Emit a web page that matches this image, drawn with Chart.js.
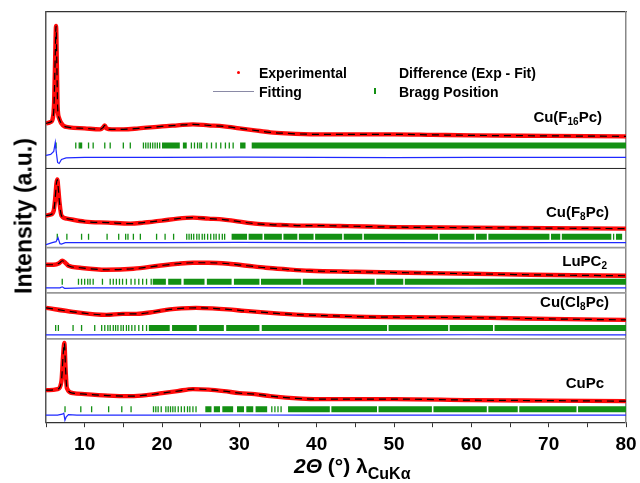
<!DOCTYPE html>
<html lang="en">
<head>
<meta charset="UTF-8" />
<title>XRD patterns - Le Bail fits</title>
<script src="https://cdn.jsdelivr.net/npm/chart.js"></script>
<style>
  * { margin: 0; padding: 0; box-sizing: border-box; }
  body { background: #fff; font-family: Arial, "Liberation Sans", sans-serif; }
  .wrap { position: relative; width: 640px; height: 483px; overflow: hidden; }
  canvas { position: absolute; left: 0; top: 0; }
  .txt { position: absolute; font-weight: bold; white-space: nowrap; color: #000; }
  .leg { font-size: 14px; line-height: 18px; }
  .name { font-size: 15px; line-height: 18px; text-align: right; }
  .name sub { font-size: 10px; vertical-align: -3px; line-height: 0; }
  .ytitle { font-size: 23px; left: 24px; top: 216px; transform: translate(-50%, -50%) rotate(-90deg); }
  .xtitle { font-size: 21px; line-height: 22px; left: 294px; top: 455px; }
  .xtitle sub { font-size: 16px; vertical-align: -6px; line-height: 0; }
  .sym { position: absolute; }
</style>
</head>
<body>
<div class="wrap">
  <canvas id="xrd" width="640" height="483"></canvas>

  <!-- legend -->
  <div class="sym" style="left:237px;top:71px;width:3px;height:3px;background:#f00;border-radius:50%;"></div>
  <div class="txt leg" style="left:259px;top:64px;">Experimental</div>
  <div class="txt leg" style="left:399px;top:64px;">Difference (Exp - Fit)</div>
  <div class="sym" style="left:213px;top:91px;width:41px;height:1px;background:#8a8aa6;"></div>
  <div class="txt leg" style="left:259px;top:83px;">Fitting</div>
  <div class="sym" style="left:374px;top:88px;width:2px;height:6px;background:#139013;"></div>
  <div class="txt leg" style="left:399px;top:83px;">Bragg Position</div>

  <!-- sample names -->
  <div class="txt name" style="right:38px;top:108px;">Cu(F<sub>16</sub>Pc)</div>
  <div class="txt name" style="right:31px;top:203px;">Cu(F<sub>8</sub>Pc)</div>
  <div class="txt name" style="right:33px;top:252px;">LuPC<sub>2</sub></div>
  <div class="txt name" style="right:31px;top:293px;">Cu(Cl<sub>8</sub>Pc)</div>
  <div class="txt name" style="right:36px;top:374px;">CuPc</div>

  <div class="txt ytitle">Intensity (a.u.)</div>
  <div class="txt xtitle"><i>2Θ</i> (°) λ<sub>CuKα</sub></div>
</div>

<script>
// x axis ticks
const xTicks = [10, 20, 30, 40, 50, 60, 70, 80];

// Cu(F16Pc)
const f16Angle = [5.0, 5.5, 5.85, 6.05, 6.2, 6.3, 6.4, 6.5, 6.7, 7.2, 8.0, 10.0, 12.0, 12.4, 12.6, 12.8, 13.5, 15.0, 17.0, 20.0, 22.0, 24.0, 26.0, 28.0, 30.0, 32.0, 34.0, 36.0, 40.0, 45.0, 50.0, 55.0, 60.0, 70.0, 80.0];
const f16Exp   = [45, 46, 49, 66, 115, 142, 105, 62, 50, 43, 41, 40, 39, 41, 43, 40, 39, 39, 40, 42, 43, 44, 43, 42, 40, 38, 36, 35, 34, 34, 34, 33.5, 33, 32.5, 32];
const f16DiffAngle = [5.0, 5.6, 6.0, 6.2, 6.35, 6.5, 6.7, 7.0, 7.6, 10, 20, 30, 40, 50, 60, 70, 80];
const f16Diff      = [13, 14, 17, 26, 15, 6, 5, 9, 10.5, 11, 11, 11.3, 11, 10.8, 11, 11, 11];
const f16Bragg = [6.3, 8.85, 9.3, 9.45, 9.6, 10.5, 11.1, 12.6, 13.3, 15.0, 15.9, 17.6, 17.9, 18.2, 18.5, 18.8, 19.1, 19.4, 19.7, 23.8, 24.2, 24.6, 24.9, 25.1, 25.8, 26.4, 27.0, 27.6, 28.2, 28.7, 29.2];
const f16Bands = [[20.0, 22.3], [22.7, 23.2], [30.1, 30.8], [31.6, 80]];

// Cu(F8Pc)
const f8Angle = [5.0, 5.6, 6.0, 6.2, 6.35, 6.46, 6.6, 6.75, 7.0, 7.7, 10, 13, 15.9, 17.6, 20, 22, 24, 26, 28, 30, 32, 34, 36, 38, 40, 44, 50, 60, 70, 80];
const f8Exp   = [32, 33, 37, 50, 64, 68, 58, 45, 32, 29, 26, 25, 24, 25, 27, 29, 30, 29, 28, 26, 24, 23, 22.5, 22, 22, 21.5, 20.5, 20, 19.5, 19];
const f8DiffAngle = [5.0, 5.8, 6.3, 6.55, 6.8, 7.0, 7.5, 10, 20, 30, 40, 50, 60, 70, 80];
const f8Diff      = [3, 5, 6, 10, 4, 3.5, 5, 5, 5, 5.3, 5, 5, 4.8, 5, 5];
const f8Bragg = [6.46, 7.7, 9.6, 10.5, 12.9, 14.4, 15.3, 15.6, 16.3, 17.2, 19.3, 20.4, 21.5, 23.2, 23.5, 23.8, 24.1, 24.5, 24.8, 25.2, 25.5, 25.9, 26.3, 26.7, 27.0, 27.4, 27.8, 28.1, 78.4];
const f8Bands = [[29.0, 31.0], [31.2, 33.0], [33.2, 35.5], [35.7, 37.5], [37.7, 39.6], [39.8, 43.3], [43.5, 45.9], [46.1, 55.7], [55.9, 60.4], [60.6, 62.0], [62.2, 70.1], [70.3, 71.5], [71.7, 78.1], [78.7, 79.5]];

// LuPc2
const luAngle = [5.0, 6.0, 6.7, 7.1, 7.5, 7.9, 9.4, 12.8, 16.3, 19.6, 22, 24, 26, 28.6, 31, 33.4, 36, 39.1, 45, 51.8, 60, 67.6, 80];
const luExp   = [28, 28, 29.5, 32, 30, 27, 25, 23, 24, 27, 29, 30, 30, 29, 27, 25, 23.5, 22, 21, 20, 19, 18, 17];
const luDiffAngle = [5, 6.8, 7.1, 7.4, 10, 20, 30, 40, 50, 60, 70, 80];
const luDiff      = [5, 5, 6, 4.5, 5, 5, 5.2, 5, 5, 4.8, 5, 5];
const luBragg = [7.1, 9.2, 9.6, 10.0, 10.4, 10.7, 11.1, 12.3, 13.3, 13.7, 14.1, 14.5, 14.9, 15.4, 16.0, 16.5, 17.0, 17.5, 18.0, 18.6];
const luBands = [[18.8, 20.5], [20.8, 22.5], [22.8, 25.5], [25.8, 29.0], [29.3, 32.6], [32.8, 38.0], [38.2, 47.5], [47.7, 51.2], [51.4, 80]];

// Cu(Cl8Pc)
const cl8Angle = [5.0, 8.5, 12.8, 14.9, 16.7, 19, 21, 22.5, 24.4, 26.5, 28.5, 30.7, 34, 38.1, 42, 46.5, 55, 62.4, 70, 80];
const cl8Exp   = [31, 27, 24, 25, 25, 27, 29.5, 30.5, 31, 30.5, 29.5, 28, 26, 24, 23, 22, 21.5, 21, 20, 19];
const cl8DiffAngle = [5, 10, 20, 30, 40, 50, 60, 70, 80];
const cl8Diff      = [4, 4, 4.3, 4, 4, 4, 4.2, 4, 4];
const cl8Bragg = [6.25, 6.6, 8.5, 9.6, 11.3, 12.2, 12.6, 13.0, 13.3, 13.7, 14.0, 14.3, 14.7, 15.0, 15.4, 15.7, 16.1, 16.5, 17.0, 17.5, 18.0];
const cl8Bands = [[18.3, 21.0], [21.3, 24.5], [24.8, 28.0], [28.3, 32.6], [32.9, 49.1], [49.3, 57.0], [57.2, 62.8], [63.0, 80]];

// CuPc
const cuAngle = [5.0, 5.4, 6.5, 7.0, 7.2, 7.37, 7.55, 7.7, 8.5, 10, 13, 16, 18, 20, 22, 24, 26, 28, 30, 32, 34, 36, 38, 40, 50, 60, 70, 80];
const cuExp   = [32, 32, 33, 41, 65, 79, 50, 34, 29, 28, 26.5, 26, 27, 29, 31, 33, 32.5, 31, 29, 28, 26, 24.5, 23.5, 23, 23, 22, 21.5, 21];
const cuDiffAngle = [5, 6.5, 7.1, 7.3, 7.45, 7.6, 7.9, 9, 20, 30, 40, 50, 60, 70, 80];
const cuDiff      = [7, 7, 8, 9, 2, 5, 7.5, 7, 7, 7.2, 7, 7, 7, 7, 7];
const cuBragg = [7.46, 9.5, 10.9, 13.1, 14.8, 16.0, 18.9, 19.2, 19.5, 19.9, 20.5, 20.8, 21.1, 21.4, 21.7, 22.1, 22.5, 22.9, 23.3, 23.6, 24.0, 24.4, 34.2, 34.6, 35.0, 35.4];
const cuBands = [[25.6, 26.4], [26.7, 27.5], [27.8, 29.2], [29.7, 30.6], [30.9, 31.8], [32.1, 33.6], [36.3, 41.7], [41.9, 47.8], [48.0, 54.9], [55.1, 62.0], [62.2, 66.0], [66.2, 73.6], [73.8, 80]];

// stacking of the panels (offset of each panel, level of the Bragg row)
const panels = [
  { angle: f16Angle, exp: f16Exp, dAngle: f16DiffAngle, diff: f16Diff, bragg: f16Bragg, bands: f16Bands, base: 253, braggAt: 23 },
  { angle: f8Angle,  exp: f8Exp,  dAngle: f8DiffAngle,  diff: f8Diff,  bragg: f8Bragg,  bands: f8Bands,  base: 174, braggAt: 11 },
  { angle: luAngle,  exp: luExp,  dAngle: luDiffAngle,  diff: luDiff,  bragg: luBragg,  bands: luBands,  base: 129, braggAt: 11 },
  { angle: cl8Angle, exp: cl8Exp, dAngle: cl8DiffAngle, diff: cl8Diff, bragg: cl8Bragg, bands: cl8Bands, base: 83,  braggAt: 11 },
  { angle: cuAngle,  exp: cuExp,  dAngle: cuDiffAngle,  diff: cuDiff,  bragg: cuBragg,  bands: cuBands,  base: 0,   braggAt: 13 }
];
const yTop = 409;

const RED = "#ff0a0a", GREEN = "#139013", BLUE = "#1e28ff";

function pts(xs, ys, off) {
  return xs.map((x, i) => ({ x: x, y: ys[i] + off }));
}
function bandPts(bands, y) {
  const out = [];
  bands.forEach(b => { out.push({ x: b[0], y: y }, { x: b[1], y: y }, { x: b[1], y: null }); });
  return out;
}

const datasets = [];
panels.forEach((p, i) => {
  datasets.push({ label: "Fitting", data: pts(p.angle, p.exp, p.base), showLine: true, borderColor: "#000",
    borderWidth: 1.2, borderDash: [7, 5], pointRadius: 0, cubicInterpolationMode: "monotone", order: 0 });
  datasets.push({ label: "Experimental", data: pts(p.angle, p.exp, p.base), showLine: true, borderColor: RED,
    borderWidth: 4.4, pointRadius: 0, cubicInterpolationMode: "monotone", order: 1 });
  datasets.push({ label: "Difference (Exp - Fit)", data: pts(p.dAngle, p.diff, p.base), showLine: true, borderColor: BLUE,
    borderWidth: 1.2, pointRadius: 0, order: 2 });
  datasets.push({ label: "Bragg Position", data: p.bragg.map(x => ({ x: x, y: p.base + p.braggAt })), showLine: false,
    pointStyle: "line", rotation: 90, pointRadius: 3, borderColor: GREEN, borderWidth: 1.3, order: 2 });
  datasets.push({ label: "Bragg band", data: bandPts(p.bands, p.base + p.braggAt), showLine: true, spanGaps: false,
    borderColor: GREEN, borderWidth: 6, borderCapStyle: "butt", pointRadius: 0, order: 2 });
  // separator under each panel except the last
  if (i < panels.length - 1) {
    datasets.push({ label: "sep", data: [{ x: 5, y: p.base }, { x: 80, y: p.base }], showLine: true,
      borderColor: i === 0 ? "#222" : "#999", borderWidth: i === 0 ? 1 : 1.8, pointRadius: 0, order: 3 });
  }
});

const hiddenAxis = { grid: { display: false, drawTicks: false }, ticks: { display: false } };

new Chart(document.getElementById("xrd"), {
  type: "scatter",
  data: { datasets: datasets },
  options: {
    responsive: false,
    animation: false,
    events: [],
    layout: { autoPadding: false, padding: { left: 46, right: 14, top: 12, bottom: 21 } },
    plugins: { legend: { display: false }, tooltip: { enabled: false } },
    scales: {
      x: {
        type: "linear", min: 5, max: 80,
        border: { display: true, color: "#333", width: 1.2 },
        grid: { display: true, drawOnChartArea: false, drawTicks: true, tickLength: 5, color: "#333" },
        ticks: {
          stepSize: 5, autoSkip: false, maxRotation: 0, padding: 6, color: "#000",
          font: { size: 19, weight: "bold", family: "Arial, 'Liberation Sans', sans-serif" },
          callback: v => xTicks.includes(v) ? v : ""
        },
        // the end labels may hang into the page margin
        afterFit: s => { s.paddingLeft = 0; s.paddingRight = 0; }
      },
      x2: Object.assign({ type: "linear", position: "top", min: 5, max: 80,
        border: { display: true, color: "#333", width: 1.2 } }, hiddenAxis),
      y: Object.assign({ type: "linear", min: 0, max: yTop,
        border: { display: true, color: "#555", width: 1.5 } }, hiddenAxis),
      y2: Object.assign({ type: "linear", position: "right", min: 0, max: yTop,
        border: { display: true, color: "#888", width: 1.5 } }, hiddenAxis)
    }
  }
});
</script>
</body>
</html>
